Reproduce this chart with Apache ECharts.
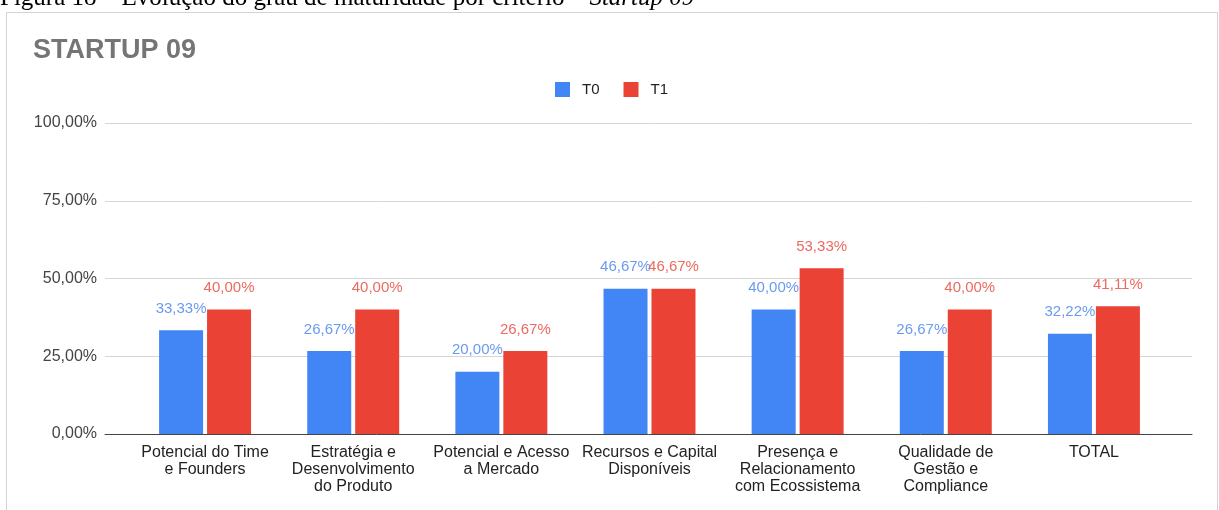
<!DOCTYPE html>
<html>
<head>
<meta charset="utf-8">
<script src="https://cdn.jsdelivr.net/npm/echarts@6/dist/echarts.min.js"></script>
<style>
  html, body { margin: 0; padding: 0; background: #fff; }
  #chart { width: 1219px; height: 510px; }
</style>
</head>
<body>
<div id="chart"></div>
<script>
// Criteria evaluated for the startup (x axis)
const categories = [
  'Potencial do Time\ne Founders',
  'Estratégia e\nDesenvolvimento\ndo Produto',
  'Potencial e Acesso\na Mercado',
  'Recursos e Capital\nDisponíveis',
  'Presença e\nRelacionamento\ncom Ecossistema',
  'Qualidade de\nGestão e\nCompliance',
  'TOTAL'
];

// Maturity (%) at each moment
const t0Values = [33.33, 26.67, 20.00, 46.67, 40.00, 26.67, 32.22];
const t1Values = [40.00, 40.00, 26.67, 46.67, 53.33, 40.00, 41.11];

// Value axis ticks
const yMin = 0;
const yMax = 100;
const yStep = 25;

const pct = v => v.toFixed(2).replace('.', ',') + '%';

const chart = echarts.init(document.getElementById('chart'), null, { renderer: 'canvas' });

const sans = 'Liberation Sans, Arial, sans-serif';
const serif = 'Liberation Serif, Times New Roman, serif';

chart.setOption({
  animation: false,
  backgroundColor: '#ffffff',
  title: {
    text: 'STARTUP 09',
    left: 28,
    top: 32,
    textStyle: {
      fontFamily: sans,
      fontSize: 27,
      fontWeight: 'bold',
      color: '#757575'
    }
  },
  legend: {
    data: ['T0', 'T1'],
    left: 555,
    top: 82,
    padding: 0,
    itemWidth: 15,
    itemHeight: 15,
    itemGap: 24,
    icon: 'rect',
    textStyle: { fontFamily: sans, fontSize: 15, color: '#222222', padding: [0, 0, 0, 7] }
  },
  graphic: [
    {
      type: 'rect',
      silent: true,
      shape: { x: 6.5, y: 12.5, width: 1211, height: 520 },
      style: { fill: '#ffffff', stroke: '#d3d3d3', lineWidth: 1 },
      z: -10
    },
    {
      type: 'text',
      silent: true,
      left: 0,
      top: -14,
      style: {
        text: 'Figura 18 – Evolução do grau de maturidade por critério – {i|Startup 09}',
        fontFamily: serif,
        fontSize: 25,
        fill: '#000000',
        rich: {
          i: { fontFamily: serif, fontSize: 25, fontStyle: 'italic', fill: '#000000' }
        }
      }
    }
  ],
  grid: [
    { left: 105, right: 27, top: 123, bottom: 76 },
    { left: 131, right: 51, top: 123, bottom: 76 }
  ],
  xAxis: [
    {
      gridIndex: 0,
      type: 'value',
      min: 0,
      max: 1,
      axisLine: { show: true, lineStyle: { color: '#444444', width: 1 } },
      axisTick: { show: false },
      axisLabel: { show: false },
      splitLine: { show: false }
    },
    {
      gridIndex: 1,
      type: 'category',
      data: categories,
      axisLine: { show: false },
      axisTick: { show: false },
      axisLabel: {
        fontFamily: sans,
        fontSize: 16,
        color: '#222222',
        margin: 10,
        lineHeight: 17,
        interval: 0,
        align: 'center'
      }
    }
  ],
  yAxis: [
    {
      gridIndex: 0,
      type: 'value',
      min: yMin,
      max: yMax,
      interval: yStep,
      axisLine: { show: false },
      axisTick: { show: false },
      axisLabel: {
        fontFamily: sans,
        fontSize: 16,
        color: '#444444',
        margin: 8,
        formatter: pct
      },
      splitLine: { show: true, lineStyle: { color: '#d6d6d6', width: 1 } }
    },
    {
      gridIndex: 1,
      type: 'value',
      min: yMin,
      max: yMax,
      interval: yStep,
      show: false,
      splitLine: { show: false }
    }
  ],
  series: [
    {
      name: 'T0',
      type: 'bar',
      xAxisIndex: 1,
      yAxisIndex: 1,
      data: t0Values,
      barWidth: 44,
      barGap: '9%',
      itemStyle: { color: '#4285f4' },
      label: {
        show: true,
        position: 'top',
        distance: 14,
        fontFamily: sans,
        fontSize: 15,
        color: '#6a9bf0',
        formatter: p => pct(p.value)
      }
    },
    {
      name: 'T1',
      type: 'bar',
      xAxisIndex: 1,
      yAxisIndex: 1,
      data: t1Values,
      barWidth: 44,
      barGap: '9%',
      itemStyle: { color: '#ea4335' },
      label: {
        show: true,
        position: 'top',
        distance: 14,
        fontFamily: sans,
        fontSize: 15,
        color: '#ec6a5f',
        formatter: p => pct(p.value)
      }
    }
  ]
});
</script>
</body>
</html>
